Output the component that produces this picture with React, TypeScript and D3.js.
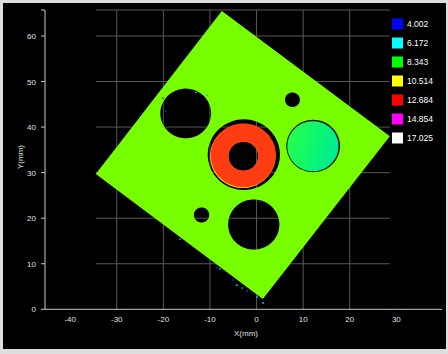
import React from 'react';
import * as d3 from 'd3';

// Plate outline (mm), corners in order: top, right, bottom, left
const plateCorners: [number, number][] = [
  [-7.45, 65.5],
  [28.6, 38.0],
  [1.35, 2.26],
  [-34.5, 29.7],
];
// Through holes (mm)
const holeX = [-15.2, 7.7, -0.6, -11.8];
const holeY = [43.0, 46.0, 18.6, 20.7];
const holeR = [5.45, 1.6, 5.5, 1.65];
// Raised ring (mm)
const ringCenter: [number, number] = [-2.83, 33.8];
const ringGapR = 7.75;
const ringOuterR = 7.0;
const ringInnerR = 3.2;
// Lowered disc (mm)
const discCenter: [number, number] = [12.1, 35.8];
const discGapR = 5.75;
const discR = 5.5;
// Noise speckles at edges (mm)
const speckX = [-10.0, -7.85, -5.05, -3.1, -2.04, 0.1, 1.4, -16.4, -8.5, -4.2, -20.1, -10.6, -5.3, 0.75, -4.2, -19.5, -13.0];
const speckY = [10.4, 8.85, 6.43, 4.68, 4.0, 2.7, 1.4, 15.4, 9.1, 5.3, 46.3, 47.0, 22.2, 23.6, 23.3, 43.5, 47.6];
const speckC = ['#0040ff', '#00d0ff', '#0030ff', '#00c0e0', '#0050ff', '#00e0ff', '#00ffff', '#00c0ff', '#0040ff', '#00ffff', '#0040ff', '#00c0ff', '#00e0ff', '#0040ff', '#00ffff', '#0030ff', '#00ff40'];

const legendValues = ['4.002', '6.172', '8.343', '10.514', '12.684', '14.854', '17.025'];
const legendColors = ['#0000ff', '#00ffff', '#00ff00', '#ffff00', '#ff0000', '#ff00ff', '#ffffff'];

const xTicks = [-40, -30, -20, -10, 0, 10, 20, 30];
const yTicks = [0, 10, 20, 30, 40, 50, 60];
const xGrid = [-30, -20, -10, 0, 10, 20];
const yGrid = [10, 20, 30, 40, 50, 60];
const xDomain: [number, number] = [-45.4, 39.8];
const yDomain: [number, number] = [0, 65.7];

export default function App() {
  const W = 448;
  const H = 354;
  const x = d3.scaleLinear().domain(xDomain).range([45, 442]);
  const y = d3.scaleLinear().domain(yDomain).range([309.3, 10]);

  const gridX0 = d3.min(plateCorners, (d) => d[0]) as number;
  const gridX1 = d3.max(plateCorners, (d) => d[0]) as number;

  const circlePath = (cx: number, cy: number, r: number) => {
    const pts: [number, number][] = d3.range(0, 72).map((i) => {
      const a = (i / 72) * Math.PI * 2;
      return [x(cx + r * Math.cos(a)), y(cy + r * Math.sin(a))];
    });
    return 'M' + pts.map((p) => p[0].toFixed(2) + ',' + p[1].toFixed(2)).join('L') + 'Z';
  };

  const plate =
    'M' + plateCorners.map((c) => x(c[0]) + ',' + y(c[1])).join('L') + 'Z' +
    holeX.map((hx, i) => circlePath(hx, holeY[i], holeR[i])).join('') +
    circlePath(ringCenter[0] + 0.1, ringCenter[1] + 0.15, ringGapR) +
    circlePath(discCenter[0] + 0.05, discCenter[1] + 0.05, discGapR);

  const innerHole = circlePath(ringCenter[0], ringCenter[1] - 0.2, ringInnerR);
  const ringPath = circlePath(ringCenter[0], ringCenter[1], ringOuterR) + innerHole;
  const ringEdgePath = circlePath(ringCenter[0] - 0.15, ringCenter[1] - 0.2, ringOuterR) + innerHole;

  const font = "'Liberation Sans', Arial, sans-serif";
  const legendY = d3.scaleLinear().domain([0, 6]).range([24, 138]);

  return (
    <div style={{ position: 'fixed', left: 0, top: 0, width: W, height: H, background: '#dedede' }}>
      <svg width={W} height={H} style={{ display: 'block' }}>
        <defs>
          <linearGradient id="discGrad" x1="0" y1="0" x2="1" y2="0.3">
            <stop offset="0%" stopColor="#2cff46" />
            <stop offset="55%" stopColor="#10f86a" />
            <stop offset="100%" stopColor="#00ec90" />
          </linearGradient>
        </defs>
        <rect x={3} y={3} width={443} height={346} fill="#000" />
        {/* grid */}
        {xGrid.map((g) => (
          <line key={'gx' + g} x1={x(g)} x2={x(g)} y1={y(0)} y2={y(yDomain[1])} stroke="#585858" strokeWidth={1} />
        ))}
        {yGrid.map((g) => (
          <line key={'gy' + g} x1={x(gridX0)} x2={x(gridX1)} y1={y(g)} y2={y(g)} stroke="#585858" strokeWidth={1} />
        ))}
        <line x1={x(gridX0)} x2={x(gridX1)} y1={y(yDomain[1])} y2={y(yDomain[1])} stroke="#585858" strokeWidth={1} />
        {/* plate */}
        <path d={plate} fill="#77ff00" fillRule="evenodd" />
        {/* ring */}
        <path d={ringEdgePath} fill="#ffc400" fillRule="evenodd" />
        <path d={ringPath} fill="#ff3c12" fillRule="evenodd" />
        {/* disc */}
        <path d={circlePath(discCenter[0], discCenter[1], discR)} fill="url(#discGrad)" />
        {/* speckles */}
        {speckX.map((sx, i) => (
          <rect key={'s' + i} x={x(sx) - 0.75} y={y(speckY[i]) - 0.75} width={1.5} height={1.5} fill={speckC[i]} />
        ))}
        {/* axes */}
        <line x1={x(xDomain[0])} x2={x(xDomain[1])} y1={y(0)} y2={y(0)} stroke="#c8c8c8" strokeWidth={1} />
        <line x1={x(xDomain[0])} x2={x(xDomain[0])} y1={y(0)} y2={y(yDomain[1])} stroke="#c8c8c8" strokeWidth={1} />
        <line x1={x(xDomain[0]) - 4} x2={x(xDomain[0])} y1={y(yDomain[1])} y2={y(yDomain[1])} stroke="#c8c8c8" strokeWidth={1} />
        {yTicks.map((t) => (
          <g key={'yt' + t}>
            <line x1={x(xDomain[0]) - 4} x2={x(xDomain[0])} y1={y(t)} y2={y(t)} stroke="#c8c8c8" strokeWidth={1} />
            <text x={x(xDomain[0]) - 9} y={y(t) + 3} fill="#e0e0e0" fontSize={8} fontFamily={font} textAnchor="end">
              {t}
            </text>
          </g>
        ))}
        {xTicks.map((t) => (
          <text key={'xt' + t} x={x(t)} y={322} fill="#e0e0e0" fontSize={8} fontFamily={font} textAnchor="middle">
            {t}
          </text>
        ))}
        <text x={246} y={336} fill="#e0e0e0" fontSize={8} fontFamily={font} textAnchor="middle">
          X(mm)
        </text>
        <text transform="translate(23,157) rotate(-90)" fill="#e0e0e0" fontSize={8} fontFamily={font} textAnchor="middle">
          Y(mm)
        </text>
        {/* legend */}
        {legendValues.map((v, i) => (
          <g key={'lg' + i}>
            <rect x={392} y={legendY(i) - 5.5} width={11} height={11} fill={legendColors[i]} />
            <text x={407} y={legendY(i) + 3} fill="#ffffff" fontSize={8.5} fontFamily={font}>
              {v}
            </text>
          </g>
        ))}
      </svg>
    </div>
  );
}
